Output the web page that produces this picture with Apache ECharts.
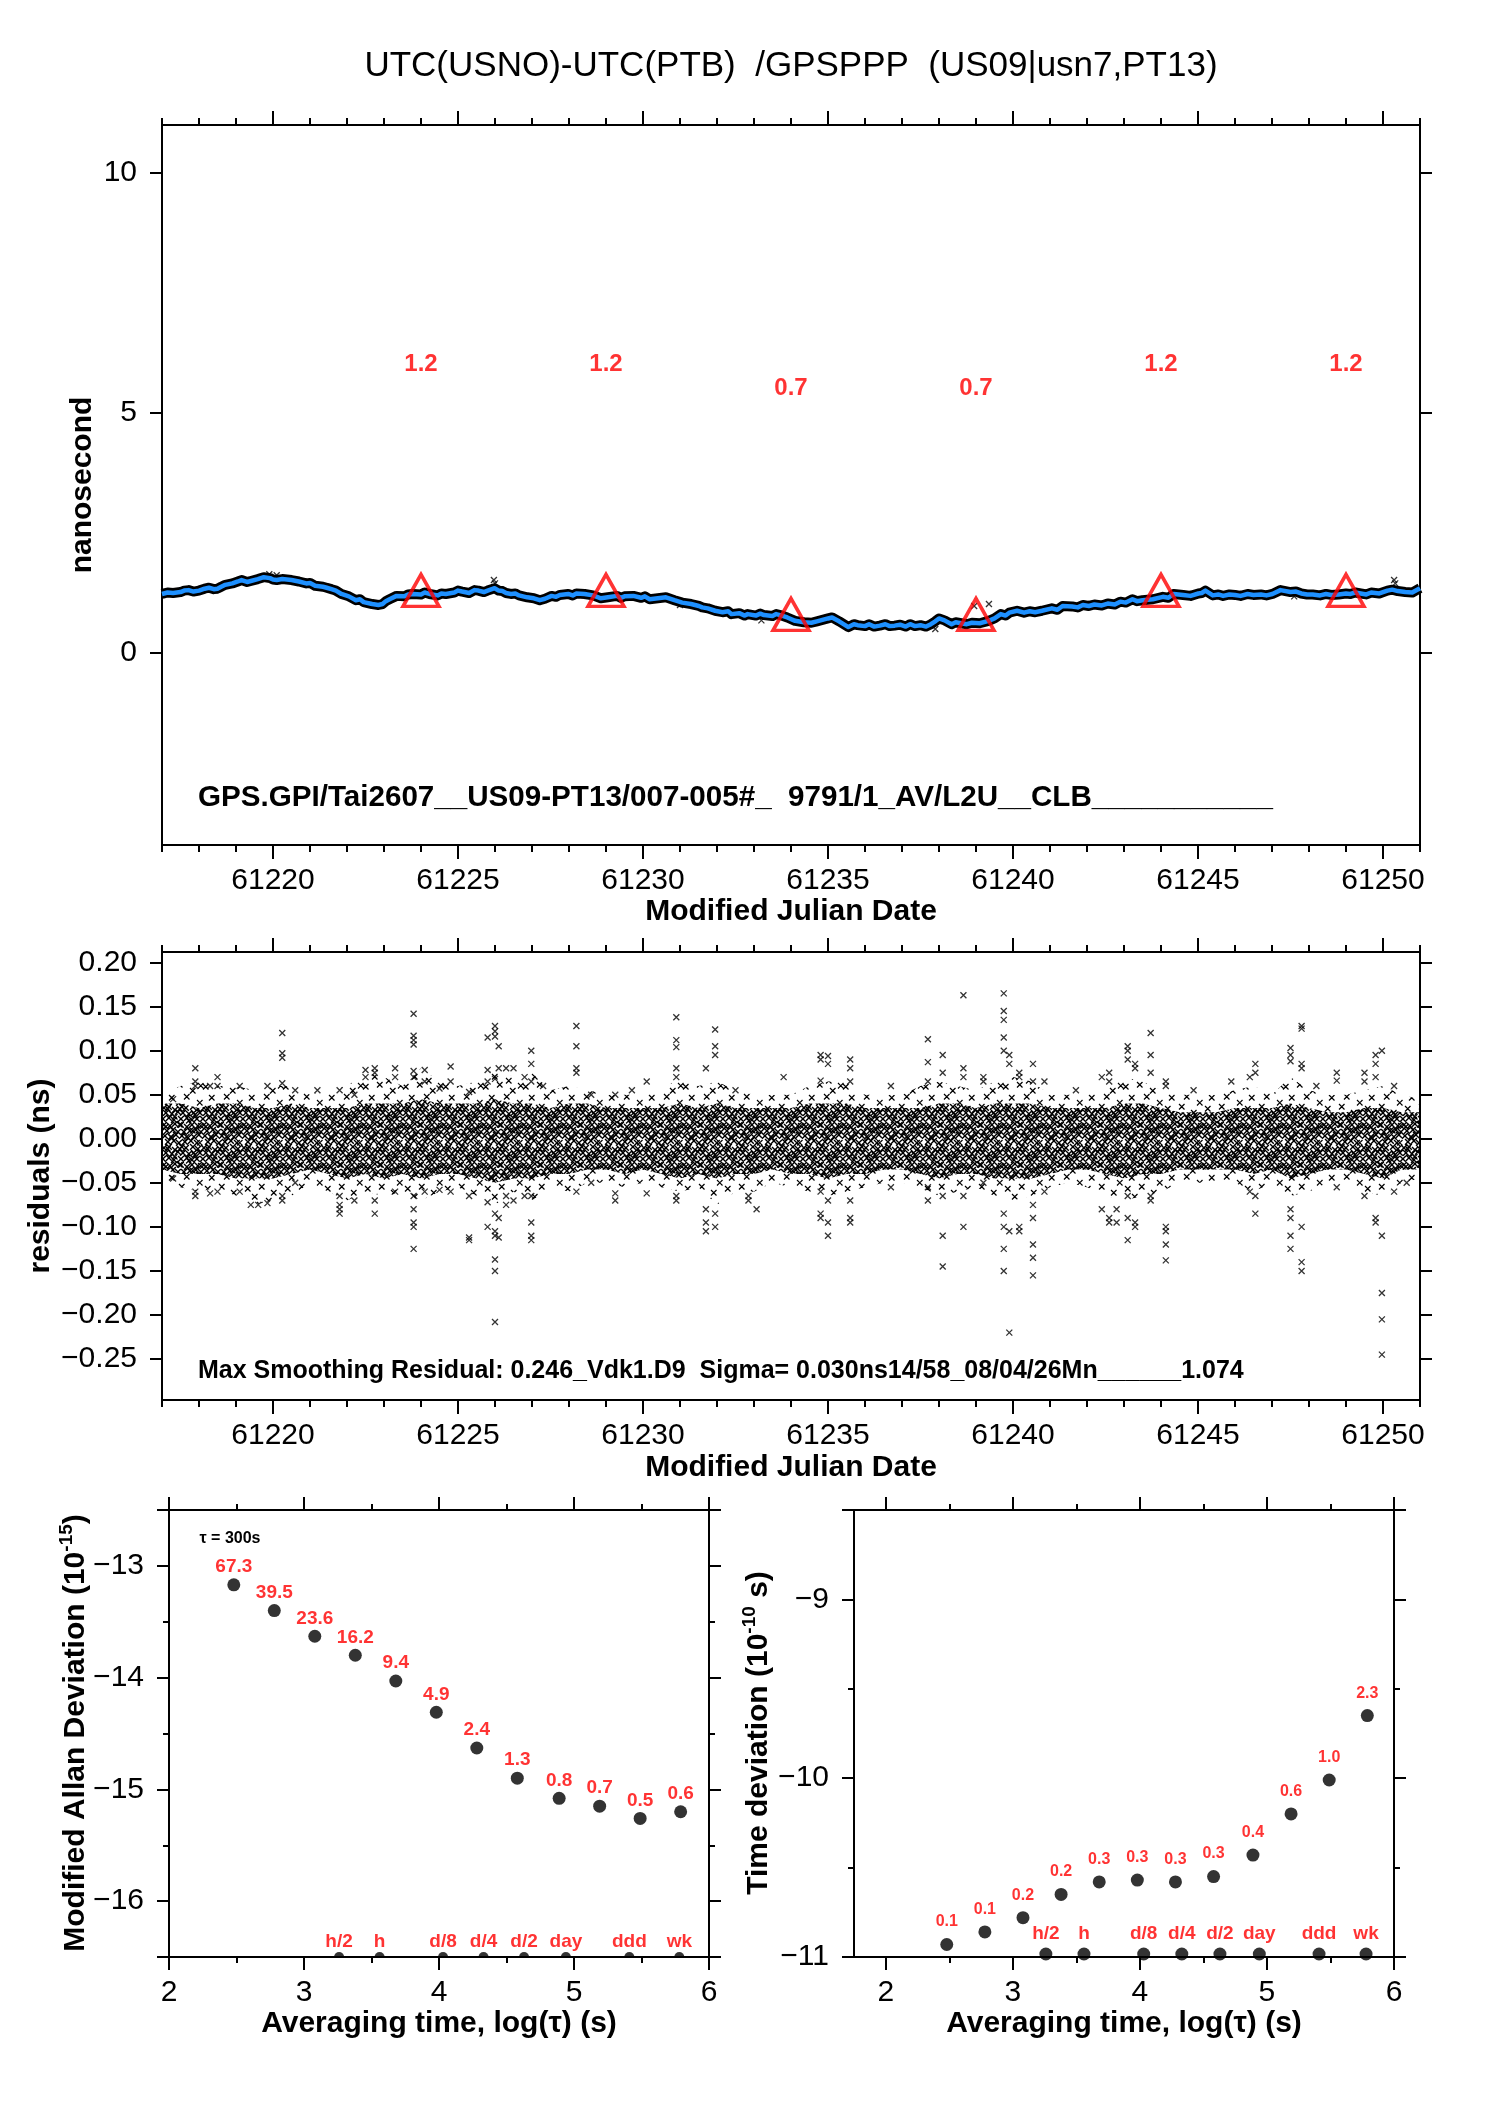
<!DOCTYPE html>
<html><head><meta charset="utf-8">
<script src="https://cdn.jsdelivr.net/npm/echarts@6/dist/echarts.min.js"></script>
<style>html,body{margin:0;padding:0;background:#fff}#c{width:1488px;height:2105px}</style>
</head><body><div id="c"></div>
<script>
// ---------------- DATA ----------------
const titleText = 'UTC(USNO)-UTC(PTB)  /GPSPPP  (US09|usn7,PT13)';
const infoTop = 'GPS.GPI/Tai2607__US09-PT13/007-005#_  9791/1_AV/L2U__CLB___________';
const infoMid = 'Max Smoothing Residual: 0.246_Vdk1.D9  Sigma= 0.030ns14/58_08/04/26Mn______1.074';

const mjdMajor = [61220, 61225, 61230, 61235, 61240, 61245, 61250];
const mjdMinor = [61217,61218,61219,61220,61221,61222,61223,61224,61225,61226,61227,61228,61229,61230,61231,61232,61233,61234,61235,61236,61237,61238,61239,61240,61241,61242,61243,61244,61245,61246,61247,61248,61249,61250,61251];
const nsTicks = [0, 5, 10];
const resTicks = [-0.25,-0.2,-0.15,-0.1,-0.05,0,0.05,0.1,0.15,0.2];

// smoothed clock difference (ns)
const smoothLine = [
[61217.0,1.23],[61217.15,1.26],[61217.3,1.25],[61217.5,1.27],[61217.6,1.30],[61217.72,1.31],[61217.85,1.28],[61218.0,1.30],[61218.15,1.34],[61218.27,1.36],[61218.4,1.33],[61218.5,1.34],[61218.6,1.38],[61218.71,1.42],
[61218.9,1.45],[61219.05,1.49],[61219.15,1.52],[61219.3,1.48],[61219.4,1.50],[61219.59,1.54],[61219.75,1.58],[61219.92,1.56],[61220.0,1.53],[61220.1,1.52],[61220.25,1.54],
[61220.5,1.52],[61220.7,1.49],[61220.9,1.45],[61221.0,1.46],[61221.14,1.40],[61221.35,1.38],[61221.45,1.36],[61221.58,1.33],[61221.7,1.30],[61221.85,1.23],
[61222.05,1.18],[61222.24,1.10],[61222.35,1.12],[61222.45,1.06],[61222.68,1.02],[61222.85,1.00],[61222.96,1.02],[61223.05,1.08],[61223.15,1.12],[61223.34,1.19],
[61223.55,1.18],[61223.65,1.22],[61223.78,1.23],[61224.0,1.22],[61224.1,1.26],[61224.23,1.23],[61224.45,1.20],[61224.55,1.24],[61224.67,1.23],[61224.9,1.26],[61225.0,1.30],[61225.11,1.28],
[61225.3,1.25],[61225.45,1.31],[61225.55,1.30],[61225.7,1.27],[61225.8,1.30],[61225.99,1.35],[61226.1,1.30],[61226.2,1.29],[61226.3,1.25],[61226.43,1.23],[61226.55,1.24],[61226.65,1.20],[61226.87,1.16],
[61227.05,1.14],[61227.21,1.10],[61227.35,1.13],[61227.53,1.19],[61227.65,1.17],[61227.75,1.21],[61227.98,1.23],[61228.1,1.20],[61228.2,1.24],[61228.42,1.23],
[61228.65,1.20],[61228.86,1.14],[61229.05,1.16],[61229.3,1.19],[61229.4,1.15],[61229.5,1.18],[61229.74,1.19],[61229.95,1.15],[61230.05,1.18],[61230.18,1.12],
[61230.4,1.14],[61230.62,1.16],[61230.85,1.10],[61231.06,1.05],[61231.3,1.02],[61231.51,0.98],[61231.6,0.95],[61231.75,0.93],[61231.95,0.88],
[61232.15,0.85],[61232.3,0.87],[61232.39,0.81],[61232.6,0.83],[61232.75,0.78],[61232.83,0.81],[61233.05,0.78],[61233.17,0.82],[61233.27,0.79],[61233.5,0.77],[61233.6,0.81],[61233.71,0.79],
[61233.9,0.74],[61234.11,0.67],[61234.35,0.64],[61234.55,0.63],[61234.7,0.66],[61234.8,0.68],[61235.0,0.72],[61235.11,0.74],[61235.3,0.66],
[61235.55,0.54],[61235.7,0.60],[61235.8,0.58],[61236.0,0.56],[61236.11,0.60],[61236.25,0.55],[61236.4,0.57],[61236.55,0.60],[61236.67,0.56],[61236.8,0.57],[61236.95,0.59],[61237.1,0.55],[61237.22,0.60],[61237.35,0.56],[61237.5,0.58],
[61237.65,0.55],[61237.78,0.60],[61237.9,0.66],[61238.0,0.72],[61238.15,0.68],[61238.34,0.60],[61238.45,0.64],[61238.6,0.62],[61238.75,0.60],[61238.89,0.63],[61239.1,0.62],[61239.34,0.67],
[61239.5,0.72],[61239.67,0.81],[61239.8,0.78],[61239.9,0.84],[61240.11,0.88],[61240.3,0.84],[61240.45,0.87],[61240.6,0.85],[61240.78,0.88],[61241.05,0.93],[61241.2,0.90],[61241.34,0.98],
[61241.6,0.97],[61241.75,0.95],[61241.89,1.00],[61242.05,0.98],[61242.2,1.01],[61242.4,0.99],[61242.56,1.03],[61242.75,1.01],[61242.9,1.07],[61243.05,1.05],[61243.23,1.12],[61243.35,1.08],[61243.5,1.10],[61243.78,1.12],
[61244.05,1.17],[61244.2,1.15],[61244.34,1.23],[61244.6,1.21],[61244.8,1.19],[61245.01,1.24],[61245.1,1.25],[61245.2,1.30],[61245.4,1.20],[61245.55,1.22],[61245.68,1.19],[61245.85,1.22],[61246.0,1.21],
[61246.15,1.19],[61246.34,1.23],[61246.5,1.21],[61246.7,1.22],[61246.85,1.20],[61247.01,1.23],[61247.23,1.31],[61247.5,1.27],[61247.65,1.28],[61247.79,1.24],[61247.95,1.22],[61248.1,1.22],[61248.3,1.20],[61248.46,1.23],
[61248.6,1.21],[61248.8,1.22],[61249.0,1.24],[61249.12,1.23],[61249.25,1.26],[61249.4,1.24],[61249.55,1.22],[61249.68,1.26],[61249.9,1.24],[61250.12,1.30],[61250.25,1.32],[61250.4,1.29],[61250.6,1.27],[61250.79,1.26],[61251.0,1.35]
];
// raw-point spikes around the smoothed curve
const rawSpikes = [[61219.9,1.64],[61220.1,1.62],[61225.97,1.52],[61226.0,1.45],[61231.0,1.00],[61233.2,0.68],[61237.9,0.50],[61238.95,0.98],[61239.35,1.02],[61247.6,1.18],[61250.3,1.52],[61250.33,1.45]];

// triangle markers and their labels
const triMjd = [61224, 61229, 61234, 61239, 61244, 61249];
const triVal = [1.2, 1.2, 0.7, 0.7, 1.2, 1.2];
const triLbl = ['1.2', '1.2', '0.7', '0.7', '1.2', '1.2'];

// residual band (every half day): dense core and outer scatter envelope
const bandMjd = [61217,61217.5,61218,61218.5,61219,61219.5,61220,61220.5,61221,61221.5,61222,61222.5,61223,61223.5,61224,61224.5,61225,61225.5,61226,61226.5,61227,61227.5,61228,61228.5,61229,61229.5,61230,61230.5,61231,61231.5,61232,61232.5,61233,61233.5,61234,61234.5,61235,61235.5,61236,61236.5,61237,61237.5,61238,61238.5,61239,61239.5,61240,61240.5,61241,61241.5,61242,61242.5,61243,61243.5,61244,61244.5,61245,61245.5,61246,61246.5,61247,61247.5,61248,61248.5,61249,61249.5,61250,61250.5,61251];
const coreUp = [.040,.040,.035,.040,.040,.035,.035,.040,.035,.035,.035,.040,.040,.040,.045,.040,.040,.040,.045,.040,.040,.035,.040,.040,.035,.035,.035,.035,.040,.035,.040,.035,.035,.035,.035,.040,.040,.040,.035,.035,.035,.035,.040,.040,.035,.040,.040,.040,.035,.035,.035,.035,.040,.040,.035,.030,.030,.030,.035,.035,.035,.040,.035,.030,.030,.035,.035,.030,.030];
const coreLo = [-.035,-.040,-.040,-.040,-.045,-.045,-.045,-.040,-.035,-.040,-.045,-.040,-.045,-.040,-.045,-.040,-.040,-.045,-.050,-.045,-.045,-.040,-.040,-.035,-.035,-.040,-.035,-.040,-.045,-.040,-.045,-.040,-.040,-.035,-.040,-.040,-.045,-.040,-.040,-.035,-.035,-.040,-.045,-.040,-.040,-.045,-.045,-.045,-.040,-.035,-.035,-.040,-.045,-.040,-.040,-.035,-.035,-.035,-.035,-.040,-.035,-.045,-.040,-.035,-.035,-.040,-.045,-.035,-.035];
const outerUp = [.050,.060,.065,.060,.060,.055,.060,.060,.050,.055,.060,.075,.070,.060,.080,.065,.060,.065,.080,.070,.075,.055,.060,.055,.050,.050,.050,.055,.070,.060,.065,.055,.050,.050,.050,.060,.065,.065,.050,.050,.050,.060,.065,.060,.055,.065,.070,.065,.050,.050,.050,.055,.070,.065,.055,.050,.050,.050,.055,.060,.050,.070,.055,.050,.050,.055,.060,.050,.045];
const outerLo = [-.045,-.055,-.060,-.055,-.065,-.075,-.070,-.065,-.050,-.060,-.070,-.060,-.065,-.060,-.070,-.060,-.055,-.065,-.075,-.060,-.070,-.055,-.060,-.050,-.050,-.055,-.050,-.055,-.060,-.055,-.075,-.060,-.060,-.050,-.055,-.060,-.065,-.060,-.055,-.050,-.050,-.055,-.065,-.060,-.055,-.065,-.070,-.065,-.055,-.050,-.055,-.065,-.070,-.065,-.060,-.050,-.050,-.050,-.050,-.060,-.050,-.065,-.060,-.050,-.050,-.060,-.065,-.050,-.045];
// individual residual points outside the dense band
const resOutliers = [
[61217.3,0.045],[61217.3,-0.045],[61217.9,0.08],[61217.9,0.065],[61217.9,0.06],[61217.9,-0.065],[61217.9,-0.06],
[61218.3,0.06],[61218.3,-0.062],[61218.5,0.07],[61218.5,0.06],[61218.5,-0.06],[61219.1,0.06],[61219.1,-0.06],
[61219.4,-0.075],[61219.6,-0.075],[61219.85,0.06],[61219.85,-0.073],
[61220.25,0.12],[61220.25,0.097],[61220.25,0.092],[61220.25,0.063],[61220.25,-0.065],[61220.25,-0.07],
[61220.6,0.055],[61220.6,-0.05],[61221.2,0.055],
[61221.8,0.055],[61221.8,-0.065],[61221.8,-0.075],[61221.8,-0.08],[61221.8,-0.085],
[61222.2,0.05],[61222.2,-0.07],[61222.5,0.078],[61222.5,0.07],
[61222.75,0.08],[61222.75,0.075],[61222.75,-0.07],[61222.75,-0.085],
[61223.3,0.07],[61223.3,0.08],[61223.3,-0.06],
[61223.8,0.142],[61223.8,0.117],[61223.8,0.112],[61223.8,0.107],[61223.8,0.077],[61223.8,0.07],[61223.8,-0.065],[61223.8,-0.08],[61223.8,-0.095],[61223.8,-0.1],[61223.8,-0.125],
[61224.1,0.078],[61224.1,0.065],[61224.1,-0.06],[61224.5,0.057],[61224.5,-0.058],
[61224.8,0.082],[61224.8,0.065],[61224.8,-0.06],
[61225.3,0.053],[61225.3,-0.065],[61225.3,-0.112],[61225.3,-0.115],
[61225.8,0.115],[61225.8,0.078],[61225.8,0.065],[61225.8,-0.072],[61225.8,-0.1],
[61226.0,0.128],[61226.0,0.122],[61226.0,0.116],[61226.0,0.068],[61226.0,-0.085],[61226.0,-0.105],[61226.0,-0.11],[61226.0,-0.137],[61226.0,-0.15],[61226.0,-0.208],
[61226.1,0.105],[61226.1,0.08],[61226.1,-0.09],[61226.1,-0.112],
[61226.3,0.08],[61226.3,-0.065],[61226.3,-0.075],[61226.5,0.08],[61226.5,-0.07],[61226.8,0.07],[61226.8,-0.065],
[61226.98,0.1],[61226.98,0.085],[61226.98,0.065],[61226.98,-0.065],[61226.98,-0.095],[61226.98,-0.11],[61226.98,-0.115],
[61227.3,0.06],
[61228.2,0.128],[61228.2,0.105],[61228.2,0.08],[61228.2,0.075],[61228.2,-0.06],
[61228.6,0.05],[61228.6,-0.05],[61229.25,0.05],[61229.25,-0.062],[61229.25,-0.07],[61229.7,0.055],
[61230.1,0.065],[61230.1,-0.062],
[61230.9,0.138],[61230.9,0.112],[61230.9,0.104],[61230.9,0.08],[61230.9,0.07],[61230.9,-0.065],[61230.9,-0.07],
[61231.7,0.08],[61231.7,-0.08],[61231.7,-0.095],[61231.7,-0.105],
[61231.95,0.124],[61231.95,0.105],[61231.95,0.095],[61231.95,-0.085],[61231.95,-0.1],
[61232.5,0.055],[61232.85,-0.065],[61232.85,-0.07],[61233.07,-0.08],[61233.8,0.07],
[61234.8,0.095],[61234.8,0.09],[61234.8,0.066],[61234.8,-0.06],[61234.8,-0.085],[61234.8,-0.09],
[61235.0,0.094],[61235.0,0.085],[61235.0,-0.07],[61235.0,-0.095],[61235.0,-0.11],
[61235.6,0.09],[61235.6,0.08],[61235.6,0.065],[61235.6,-0.07],[61235.6,-0.09],[61235.6,-0.095],
[61236.7,0.06],[61236.7,-0.055],
[61237.7,0.113],[61237.7,0.087],[61237.7,0.065],[61237.7,-0.055],[61237.7,-0.07],
[61238.1,0.095],[61238.1,0.075],[61238.1,-0.065],[61238.1,-0.11],[61238.1,-0.145],
[61238.66,0.163],[61238.66,0.08],[61238.66,0.07],[61238.66,-0.1],[61238.66,-0.065],
[61239.2,0.07],[61239.2,0.065],[61239.2,-0.05],
[61239.75,0.165],[61239.75,0.145],[61239.75,0.135],[61239.75,0.115],[61239.75,0.1],[61239.75,-0.085],[61239.75,-0.1],[61239.75,-0.125],[61239.75,-0.15],
[61239.9,0.095],[61239.9,0.085],[61239.9,-0.105],[61239.9,-0.22],
[61240.17,0.075],[61240.17,0.07],[61240.17,-0.1],[61240.17,-0.105],
[61240.54,0.085],[61240.54,0.065],[61240.54,-0.075],[61240.54,-0.09],[61240.54,-0.12],[61240.54,-0.135],[61240.54,-0.155],
[61240.85,0.065],[61240.85,-0.06],[61241.7,0.055],
[61242.4,0.07],[61242.4,-0.08],[61242.6,0.075],[61242.6,0.065],[61242.6,-0.09],[61242.6,-0.095],[61242.8,-0.095],[61242.8,-0.08],
[61243.1,0.105],[61243.1,0.1],[61243.1,0.09],[61243.1,-0.065],[61243.1,-0.09],[61243.1,-0.115],
[61243.3,0.085],[61243.3,0.08],[61243.3,-0.095],[61243.3,-0.1],
[61243.72,0.12],[61243.72,0.095],[61243.72,0.075],[61243.72,-0.065],[61243.72,-0.07],
[61244.13,0.065],[61244.13,0.06],[61244.13,-0.1],[61244.13,-0.105],[61244.13,-0.12],[61244.13,-0.138],
[61244.88,0.055],[61245.9,0.065],[61246.4,0.07],[61246.4,-0.06],
[61246.55,0.085],[61246.55,0.075],[61246.55,-0.065],[61246.55,-0.085],
[61247.5,0.103],[61247.5,0.095],[61247.5,0.088],[61247.5,-0.08],[61247.5,-0.09],[61247.5,-0.11],[61247.5,-0.125],
[61247.8,0.128],[61247.8,0.125],[61247.8,0.085],[61247.8,0.08],[61247.8,-0.1],[61247.8,-0.14],[61247.8,-0.15],
[61248.2,0.06],[61248.75,0.075],[61248.75,0.066],[61248.75,-0.055],
[61249.5,0.075],[61249.5,0.065],[61249.5,-0.065],
[61249.8,0.095],[61249.8,0.085],[61249.8,0.07],[61249.8,-0.09],[61249.8,-0.095],
[61249.97,0.1],[61249.97,-0.11],[61249.97,-0.175],[61249.97,-0.205],[61249.97,-0.245],
[61250.3,0.06],[61250.3,-0.06],[61250.64,-0.05]
];

// stability plots (log10 tau)
const logTau = [2.48,2.78,3.08,3.38,3.68,3.98,4.28,4.58,4.89,5.19,5.49,5.79];
const adevLog = [-13.17,-13.40,-13.63,-13.80,-14.03,-14.31,-14.63,-14.90,-15.08,-15.15,-15.26,-15.20];
const adevLbl = ['67.3','39.5','23.6','16.2','9.4','4.9','2.4','1.3','0.8','0.7','0.5','0.6'];
const tdevLog = [-10.93,-10.86,-10.78,-10.65,-10.58,-10.57,-10.58,-10.55,-10.43,-10.20,-10.01,-9.65];
const tdevLbl = ['0.1','0.1','0.2','0.2','0.3','0.3','0.3','0.3','0.4','0.6','1.0','2.3'];
const markLog = [3.26,3.56,4.03,4.33,4.63,4.94,5.41,5.78];
const markLbl = ['h/2','h','d/8','d/4','d/2','day','ddd','wk'];
const logMajor = [2,3,4,5,6];
const logMinor = [2.5,3.5,4.5,5.5];
const adevMajor = [-16.5,-16,-15,-14,-13,-12.5];
const adevMinor = [-15.5,-14.5,-13.5];
const adevLabels = [-16,-15,-14,-13];
const tdevMajor = [-11,-10,-9,-8.5];
const tdevMinor = [-10.5,-9.5];
const tdevLabels = [-11,-10,-9];

// ---------------- STYLE: x-mark textures for the dense residual cloud ----------------
const coreTile = [[1,2],[7,3],[12,1],[18,2],[24,4],[29,2],[35,3],[4,8],[10,7],[15,9],[21,9],[27,8],[33,7],[38,9],
  [2,13],[8,14],[13,12],[19,13],[25,15],[31,14],[36,12],[5,19],[11,18],[16,20],[22,19],[28,18],[34,20],
  [1,25],[6,24],[12,27],[17,26],[23,25],[30,24],[35,26],[3,30],[9,31],[15,29],[20,30],[26,31],[32,32],[37,30],
  [0,36],[6,35],[11,37],[18,36],[24,35],[29,37],[34,36]];
const outerTile = [[3,4],[17,2],[30,8],[9,15],[24,14],[37,20],[5,26],[19,24],[31,30],[12,34],[26,38],[38,3]];
function makeTexture(marks, size, lw) {
  const W = 40, H = 40;
  const cv = document.createElement('canvas');
  cv.width = W; cv.height = H;
  const g = cv.getContext('2d');
  g.strokeStyle = '#000'; g.lineWidth = lw; g.beginPath();
  marks.forEach(m => {
    for (let dx = -W; dx <= W; dx += W) for (let dy = -H; dy <= H; dy += H) {
      const x = m[0] + dx, y = m[1] + dy;
      g.moveTo(x, y); g.lineTo(x + size, y + size);
      g.moveTo(x + size, y); g.lineTo(x, y + size);
    }
  });
  g.stroke();
  return cv;
}
const coreTex = makeTexture(coreTile, 5.8, 1.4);
const outerTex = makeTexture(outerTile, 5.5, 1.2);

// ---------------- CHART ----------------
const FONT = "'Liberation Sans', Arial, Helvetica, sans-serif";
const el = document.getElementById('c');
const chart = echarts.init(el, null, {width: 1488, height: 2105});

const G = [
  {left:162, top:125, width:1258, height:720},
  {left:162, top:952, width:1258, height:448},
  {left:169, top:1510, width:540, height:447},
  {left:854, top:1510, width:540, height:447}
];
const grids = [];
G.forEach(g => { grids.push(Object.assign({}, g)); grids.push(Object.assign({}, g)); });

const minus = v => (v < 0 ? '\u2212' : '');
function ax(gi, pos, min, max, ticks, len, labels, fmt, line) {
  return {
    type: 'value', gridIndex: gi, position: pos, min: min, max: max,
    axisLine: {show: line, onZero: false, lineStyle: {color: '#000', width: 2}},
    axisTick: {show: ticks.length > 0, length: len, customValues: ticks, lineStyle: {color: '#000', width: 2}},
    axisLabel: labels ? {show: true, customValues: labels, formatter: fmt, margin: (pos === 'left' ? 25 : 21),
      fontSize: 30, color: '#000', fontFamily: FONT} : {show: false},
    splitLine: {show: false}, minorTick: {show: false}
  };
}
const fInt = v => minus(v) + Math.abs(v).toFixed(0);
const f2 = v => minus(v) + Math.abs(v).toFixed(2);

const xAxis = [
  ax(0,'bottom',61217,61251,mjdMajor,14,mjdMajor,v=>String(v),true),
  ax(0,'top',61217,61251,mjdMajor,14,null,null,true),
  ax(1,'bottom',61217,61251,mjdMinor,7,null,null,false),
  ax(1,'top',61217,61251,mjdMinor,7,null,null,false),
  ax(2,'bottom',61217,61251,mjdMajor,14,mjdMajor,v=>String(v),true),
  ax(2,'top',61217,61251,mjdMajor,14,null,null,true),
  ax(3,'bottom',61217,61251,mjdMinor,7,null,null,false),
  ax(3,'top',61217,61251,mjdMinor,7,null,null,false),
  ax(4,'bottom',2,6,logMajor,13,logMajor,fInt,true),
  ax(4,'top',2,6,logMajor,13,null,null,true),
  ax(5,'bottom',2,6,logMinor,6,null,null,false),
  ax(5,'top',2,6,logMinor,6,null,null,false),
  ax(6,'bottom',1.75,6,logMajor,13,logMajor,fInt,true),
  ax(6,'top',1.75,6,logMajor,13,null,null,true),
  ax(7,'bottom',1.75,6,logMinor,6,null,null,false),
  ax(7,'top',1.75,6,logMinor,6,null,null,false)
];
const yAxis = [
  ax(0,'left',-4,11,nsTicks,12,nsTicks,fInt,true),
  ax(0,'right',-4,11,nsTicks,12,null,null,true),
  ax(1,'left',-4,11,[],0,null,null,false),
  ax(1,'right',-4,11,[],0,null,null,false),
  ax(2,'left',-0.2965,0.212,resTicks,12,resTicks,f2,true),
  ax(2,'right',-0.2965,0.212,resTicks,12,null,null,true),
  ax(3,'left',-0.2965,0.212,[],0,null,null,false),
  ax(3,'right',-0.2965,0.212,[],0,null,null,false),
  ax(4,'left',-16.5,-12.5,adevMajor,12,adevLabels,fInt,true),
  ax(4,'right',-16.5,-12.5,adevMajor,12,null,null,true),
  ax(5,'left',-16.5,-12.5,adevMinor,6,null,null,false),
  ax(5,'right',-16.5,-12.5,adevMinor,6,null,null,false),
  ax(6,'left',-11,-8.5,tdevMajor,12,tdevLabels,fInt,true),
  ax(6,'right',-11,-8.5,tdevMajor,12,null,null,true),
  ax(7,'left',-11,-8.5,tdevMinor,6,null,null,false),
  ax(7,'right',-11,-8.5,tdevMinor,6,null,null,false)
];

const XMARK = 'path://M0,0L10,10M10,0L0,10';
const xStyle = {color: 'rgba(0,0,0,0)', borderColor: '#000', borderWidth: 1.3};
const RED = '#ff0000';

// band polygon drawn through the axis scales
function bandSeries(up, lo, fill, z) {
  return {
    type: 'custom', xAxisIndex: 4, yAxisIndex: 4, silent: true, z: z, clip: true,
    data: [[bandMjd[0], 0]],
    renderItem: function (params, api) {
      const pts = [];
      for (let i = 0; i < bandMjd.length; i++) pts.push(api.coord([bandMjd[i], up[i]]));
      for (let i = bandMjd.length - 1; i >= 0; i--) pts.push(api.coord([bandMjd[i], lo[i]]));
      return {type: 'polygon', shape: {points: pts}, style: {fill: fill, stroke: null}};
    }
  };
}

const series = [
  // top plot
  {type:'line', xAxisIndex:0, yAxisIndex:0, data: smoothLine, symbol:'none', silent:true,
   lineStyle:{color:'#000', width:10, join:'round'}, z:2},
  {type:'scatter', xAxisIndex:0, yAxisIndex:0, data: rawSpikes, symbol: XMARK, symbolSize: 6, itemStyle: xStyle, z:2},
  {type:'line', xAxisIndex:0, yAxisIndex:0, data: smoothLine, symbol:'none', silent:true,
   lineStyle:{color:'#1e90ff', width:4.5, join:'round'}, z:3},
  {type:'scatter', xAxisIndex:0, yAxisIndex:0, data: triMjd.map((x,i)=>[x, triVal[i]]),
   symbol:'triangle', symbolSize:[36,32], symbolOffset:[0,-5],
   itemStyle:{color:'rgba(0,0,0,0)', borderColor:RED, borderWidth:3.5}, z:4},
  {type:'scatter', xAxisIndex:0, yAxisIndex:0, data: triMjd.map((x,i)=>[x, triVal[i]]),
   symbolSize:1, itemStyle:{color:'rgba(0,0,0,0)'}, z:4,
   label:{show:true, position:'inside', offset:[0,-231], formatter: p => triLbl[p.dataIndex],
     color:RED, fontSize:24, fontWeight:'bold', fontFamily:FONT}},
  // residuals
  bandSeries(outerUp, outerLo, {image: outerTex, repeat: 'repeat'}, 1),
  bandSeries(coreUp, coreLo, {image: coreTex, repeat: 'repeat'}, 2),
  {type:'scatter', xAxisIndex:4, yAxisIndex:4, data: resOutliers, symbol: XMARK, symbolSize: 6, itemStyle: xStyle, z:3},
  // ADEV
  {type:'scatter', xAxisIndex:8, yAxisIndex:8, data: logTau.map((x,i)=>[x, adevLog[i]]), symbol:'circle', symbolSize:13,
   itemStyle:{color:'#000'},
   label:{show:true, position:'top', distance:2, formatter: p => adevLbl[p.dataIndex], color:RED, fontSize:19, fontWeight:'bold', fontFamily:FONT}},
  {type:'scatter', xAxisIndex:8, yAxisIndex:8, data: markLog.map(x=>[x, -16.5]), symbol:'path://M0,10A10,10 0 0 1 20,10Z',
   symbolSize:[10,5], symbolOffset:[0,-2.5], itemStyle:{color:'#000'}, clip:false,
   label:{show:true, position:'top', distance:1, formatter: p => markLbl[p.dataIndex], color:RED, fontSize:19, fontWeight:'bold', fontFamily:FONT}},
  // TDEV
  {type:'scatter', xAxisIndex:12, yAxisIndex:12, data: logTau.map((x,i)=>[x, tdevLog[i]]), symbol:'circle', symbolSize:13,
   itemStyle:{color:'#000'},
   label:{show:true, position:'top', distance:8, formatter: p => tdevLbl[p.dataIndex], color:RED, fontSize:16, fontWeight:'bold', fontFamily:FONT}},
  {type:'scatter', xAxisIndex:12, yAxisIndex:12, data: markLog.map(x=>[x, -11]), symbol:'circle', symbolSize:13, symbolOffset:[0,-3],
   itemStyle:{color:'#000'}, clip:false,
   label:{show:true, position:'top', distance:4, formatter: p => markLbl[p.dataIndex], color:RED, fontSize:19, fontWeight:'bold', fontFamily:FONT}}
];

function txt(x, y, text, font, extra) {
  return Object.assign({type:'text', x:x, y:y, silent:true,
    style: Object.assign({text:text, font:font, fill:'#000', textAlign:'center', align:'center',
      textVerticalAlign:'middle', verticalAlign:'middle'}, (extra && extra.style) || {})},
    (extra && extra.rotation) ? {rotation: extra.rotation} : {});
}
const B30 = 'bold 30px ' + FONT;
const supRich = {
  n: {fontSize:30, fontWeight:'bold', fontFamily:FONT, lineHeight:34, verticalAlign:'bottom'},
  s: {fontSize:19, fontWeight:'bold', fontFamily:FONT, lineHeight:34, verticalAlign:'top', padding:[0,0,14,0]}
};
const graphic = [
  txt(791, 66, titleText, '35px ' + FONT),
  txt(83, 485, 'nanosecond', B30, {rotation: Math.PI/2}),
  txt(791, 912, 'Modified Julian Date', B30),
  txt(198, 798, infoTop, 'bold 29.6px ' + FONT, {style:{textAlign:'left', align:'left'}}),
  txt(41, 1176, 'residuals (ns)', B30, {rotation: Math.PI/2}),
  txt(791, 1468, 'Modified Julian Date', B30),
  txt(198, 1371, infoMid, 'bold 25px ' + FONT, {style:{textAlign:'left', align:'left'}}),
  txt(74, 1733, '{n|Modified Allan Deviation (10}{s|-15}{n|)}', B30, {rotation: Math.PI/2, style:{rich: supRich}}),
  txt(757, 1733, '{n|Time deviation (10}{s|-10}{n| s)}', B30, {rotation: Math.PI/2, style:{rich: supRich}}),
  txt(439, 2024, 'Averaging time, log(\u03C4) (s)', B30),
  txt(1124, 2024, 'Averaging time, log(\u03C4) (s)', B30),
  txt(230, 1539, '\u03C4 = 300s', 'bold 16px ' + FONT)
];

chart.setOption({
  animation: false,
  backgroundColor: '#fff',
  textStyle: {fontFamily: FONT},
  grid: grids,
  xAxis: xAxis,
  yAxis: yAxis,
  series: series,
  graphic: graphic
});
</script>
</body></html>
